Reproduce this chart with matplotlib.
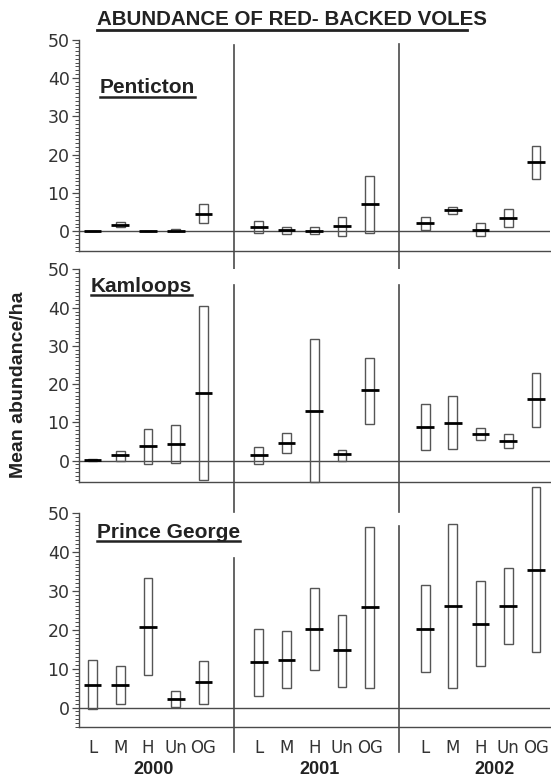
import matplotlib
matplotlib.use("Agg")
import matplotlib.pyplot as plt
from matplotlib.ticker import MultipleLocator
from matplotlib.lines import Line2D

plt.rcParams['font.family'] = ['Liberation Sans', 'DejaVu Sans']

title = "ABUNDANCE OF RED- BACKED VOLES"
ylabel = "Mean abundance/ha"
categories = ['L', 'M', 'H', 'Un', 'OG']
years = ['2000', '2001', '2002']
sites = ['Penticton', 'Kamloops', 'Prince George']

# rows: years 2000, 2001, 2002 ; columns: L, M, H, Un, OG
pen_mean = [[0.0, 1.7, 0.0, 0.2, 4.6], [1.2, 0.4, 0.2, 1.3, 7.1], [2.2, 5.5, 0.4, 3.6, 18.0]]
pen_low = [[0.0, 1.0, 0.0, 0.0, 2.2], [-0.35, -0.7, -0.7, -1.3, -0.35], [0.4, 4.5, -1.3, 1.2, 13.6]]
pen_high = [[0.0, 2.4, 0.0, 0.5, 7.0], [2.8, 1.0, 1.0, 3.7, 14.4], [3.7, 6.4, 2.2, 5.8, 22.3]]

kam_mean = [[0.2, 1.4, 3.7, 4.3, 17.7], [1.4, 4.7, 12.9, 1.6, 18.4], [8.8, 9.9, 7.0, 5.2, 16.0]]
kam_low = [[0.0, 0.0, -0.9, -0.7, -5.0], [-1.0, 2.1, -5.6, 0.0, 9.7], [2.8, 3.1, 5.4, 3.3, 8.7]]
kam_high = [[0.4, 2.6, 8.3, 9.3, 40.4], [3.6, 7.3, 31.7, 2.8, 26.9], [14.8, 17.0, 8.5, 7.0, 23.0]]

pg_mean = [[5.9, 5.9, 20.8, 2.3, 6.5], [11.6, 12.3, 20.3, 14.7, 25.8], [20.3, 26.2, 21.6, 26.1, 35.4]]
pg_low = [[-0.5, 1.0, 8.4, 0.2, 1.0], [2.9, 5.1, 9.6, 5.3, 4.9], [9.1, 5.1, 10.7, 16.3, 14.3]]
pg_high = [[12.1, 10.7, 33.2, 4.2, 12.0], [20.3, 19.6, 30.8, 23.8, 46.5], [31.4, 47.2, 32.6, 35.9, 56.6]]

W, H = 551, 779
fig = plt.figure(figsize=(W / 100, H / 100), dpi=100)
fig.patch.set_facecolor('white')

GREY = '#4a4a4a'
TICKFONT = 'DejaVu Sans'
left_px = 79.3
right_px = 549.8
xlim = (-0.48, 16.5)

panels = [
    dict(name=sites[0], mean=pen_mean, low=pen_low, high=pen_high, top=39.5, bot=250.5, ylim=(-5, 50),
         lab=(0.26, 36.0), sep=[(48.5, -11.0), (48.8, -11.0)]),
    dict(name=sites[1], mean=kam_mean, low=kam_low, high=kam_high, top=269.5, bot=482.0, ylim=(-5.6, 50),
         lab=(-0.07, 44.2), sep=[(46.0, -13.5), (46.0, -13.5)]),
    dict(name=sites[2], mean=pg_mean, low=pg_low, high=pg_high, top=513.0, bot=727.0, ylim=(-5, 50),
         lab=(0.16, 43.6), sep=[(38.5, -11.3), (46.7, -11.3)]),
]

group_gap = 6
sep_x = [5.1, 11.05]
box_w = 0.32
mean_half = 0.32

axes = []
label_texts = []
for p in panels:
    ax = fig.add_axes([left_px / W, 1 - p['bot'] / H, (right_px - left_px) / W, (p['bot'] - p['top']) / H])
    axes.append(ax)
    ax.set_xlim(*xlim)
    ax.set_ylim(*p['ylim'])
    for s in ['top', 'right']:
        ax.spines[s].set_visible(False)
    for s in ['left', 'bottom']:
        ax.spines[s].set_color(GREY)
        ax.spines[s].set_linewidth(1.0)
    ax.axhline(0, color=GREY, lw=1.0, zorder=1)
    ax.yaxis.set_major_locator(MultipleLocator(10))
    ax.yaxis.set_minor_locator(MultipleLocator(1))
    ax.tick_params(axis='y', which='major', direction='out', length=5, width=0.9, color=GREY,
                   labelcolor='#333333', pad=2)
    ax.tick_params(axis='y', which='minor', direction='out', length=2.6, width=0.7, color=GREY)
    ax.set_yticks([0, 10, 20, 30, 40, 50])
    ax.set_yticklabels(['0', '10', '20', '30', '40', '50'], fontfamily=TICKFONT, fontsize=12.5)
    for gi in range(len(years)):
        xs = [gi * group_gap + i for i in range(len(categories))]
        lows = p['low'][gi]
        highs = p['high'][gi]
        means = p['mean'][gi]
        ax.bar(xs, [h - l for h, l in zip(highs, lows)], bottom=lows, width=box_w,
               facecolor='none', edgecolor='#555555', linewidth=1.0, zorder=3, clip_on=False)
        ax.hlines(means, [x - mean_half for x in xs], [x + mean_half for x in xs],
                  color='black', linewidth=2.0, zorder=4)
    for sx, (y0, y1) in zip(sep_x, p['sep']):
        ax.plot([sx, sx], [y0, y1], color=GREY, lw=1.2, clip_on=False, zorder=2)
    t = ax.text(p['lab'][0], p['lab'][1], p['name'], fontsize=15, fontweight='bold',
                ha='left', va='baseline', color='#222222')
    label_texts.append(t)

# x tick labels only on bottom panel
all_x = [gi * group_gap + i for gi in range(len(years)) for i in range(len(categories))]
for ax in axes[:2]:
    ax.set_xticks([])
axb = axes[2]
axb.set_xticks(all_x)
axb.set_xticklabels(categories * len(years), fontfamily=TICKFONT, fontsize=12)
axb.tick_params(axis='x', length=0, pad=8.5, labelcolor='#333333')
year_x = [2.21, 8.2, 14.5]
for yx, yr in zip(year_x, years):
    axb.text(yx, -15.8, yr, ha='center', va='center', fontsize=13, fontweight='bold',
             color='#222222', clip_on=False)

# title
fig.text(97 / W, 1 - 25 / H, title, ha='left', va='baseline', fontsize=14.8, fontweight='bold',
         color='#222222')
fig.add_artist(Line2D([97 / W, 467 / W], [1 - 29.5 / H, 1 - 29.5 / H], color='#222222', lw=2.0))

# y label
fig.text(19 / W, 1 - 385 / H, ylabel, rotation=90, ha='center', va='center', fontsize=14,
         fontweight='bold', color='#222222')

# underline panel labels
fig.canvas.draw()
r = fig.canvas.get_renderer()
for t in label_texts:
    bb = t.get_window_extent(renderer=r)
    x0, x1 = bb.x0 / W, bb.x1 / W
    base = t.get_transform().transform(t.get_position())[1]
    yy = (base - 3.5) / H
    fig.add_artist(Line2D([x0, x1], [yy, yy], color='#222222', lw=1.8))

fig.savefig('out.png', dpi=100, facecolor='white')
